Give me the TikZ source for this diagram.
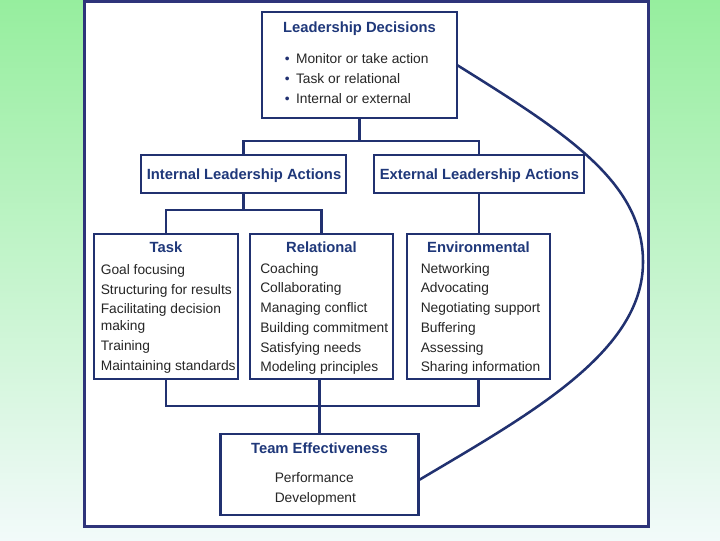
\documentclass[tikz,border=0pt]{standalone}
\usepackage{fontspec}
\setmainfont{Liberation Sans}
\usepackage{tikz}
\definecolor{mnavy}{RGB}{33, 49, 112}
\definecolor{mtitle}{RGB}{31, 56, 122}
\definecolor{mframe}{RGB}{46, 52, 122}
\definecolor{mgreen}{RGB}{150, 238, 158}
\definecolor{mpale}{RGB}{242, 250, 250}
\tikzset{box/.style = {draw = mnavy, line width = 1.6pt, fill = white, inner sep = 0}}
\tikzset{title/.style = {anchor = base, inner sep = 0, text = mtitle, font = \fontsize{10.5}{12}\selectfont\bfseries}}
% lists are placed at the baseline of their last line
\tikzset{items/.style = {anchor = base west, inner sep = 0, align = left, text = black!85, font = \fontsize{9.8}{14}\selectfont}}
\tikzset{link/.style = {draw = mnavy, line width = 2pt}}
\newcommand{\bul}{{\color{mnavy}\textbullet}\hspace{4.5pt}}

\begin{document}
\begin{tikzpicture}[x = 0.025cm, y = -0.025cm]
    \useasboundingbox (0, 0) rectangle (720, 540);
    \shade [top color = mgreen, bottom color = mpale] (0, 0) rectangle (720, 540);
    \draw [mframe, line width = 2.2pt, fill = white] (84.5, 1) rectangle (648.5, 526.5);

    % the loop back from the outcome to the decisions
    \coordinate (bend) at (643, 262);
    \draw [mnavy, line width = 1.8pt] (457, 65) .. controls (566, 133) and (643, 182) .. (bend)
        .. controls (643, 352) and (530, 414) .. (419, 480);

    \node [box, minimum width = 4.875cm, minimum height = 2.65cm] (dec) at (359.5, 65) {};
    \node [title] (dectitle) at (359.5, 32) {Leadership Decisions};
    \node [items] (declist) at (284.6, 103) {\bul Monitor or take action\\ \bul Task or relational\\ \bul Internal or external};

    \node [box, minimum width = 5.125cm, minimum height = 0.95cm] (intl) at (243.5, 174) {};
    \node [title] (intltitle) at (244, 179.3) {Internal Leadership Actions};
    \node [box, minimum width = 5.25cm, minimum height = 0.95cm] (extl) at (479, 174) {};
    \node [title] (extltitle) at (479.5, 179.3) {External Leadership Actions};

    \node [box, minimum width = 3.6cm, minimum height = 3.625cm] (task) at (166, 306.5) {};
    \node [title] (tasktitle) at (166, 252.7) {Task};
    \node [items] (tasklist) at (100.5, 370) {Goal focusing\\ Structuring for results\\ Facilitating decision\\[-2pt] making\\ Training\\ Maintaining standards};

    \node [box, minimum width = 3.575cm, minimum height = 3.625cm] (rel) at (321.5, 306.5) {};
    \node [title] (reltitle) at (321.5, 252.7) {Relational};
    \node [items] (rellist) at (260, 371.7) {Coaching\\ Collaborating\\ Managing conflict\\ Building commitment\\ Satisfying needs\\ Modeling principles};

    \node [box, minimum width = 3.575cm, minimum height = 3.625cm] (env) at (478.5, 306.5) {};
    \node [title] (envtitle) at (478.5, 252.7) {Environmental};
    \node [items] (envlist) at (420.5, 371.7) {Networking\\ Advocating\\ Negotiating support\\ Buffering\\ Assessing\\ Sharing information};

    \node [box, minimum width = 4.95cm, minimum height = 2.025cm] (team) at (319.5, 474.5) {};
    \node [title] (teamtitle) at (319.5, 453.7) {Team Effectiveness};
    \node [items] (teamlist) at (274.5, 502) {Performance\\ Development};

    % tree of connectors
    \coordinate (split1) at (359.5, 141);
    \draw [link] (dec.south) -- (split1);
    \draw [link] (intl.north) |- (split1) -| (extl.north);

    \coordinate (split2) at (243.5, 210);
    \draw [link] (intl.south) -- (split2);
    \draw [link] (task.north) |- (split2) -| (rel.north);
    \draw [link] (extl.south) -- (extl.south |- env.north);

    \coordinate (split3) at (319.5, 406);
    \draw [link] (task.south) |- (split3) -| (env.south);
    \draw [link] (team.north |- rel.south) -- (team.north);
  \end{tikzpicture}
\end{document}
